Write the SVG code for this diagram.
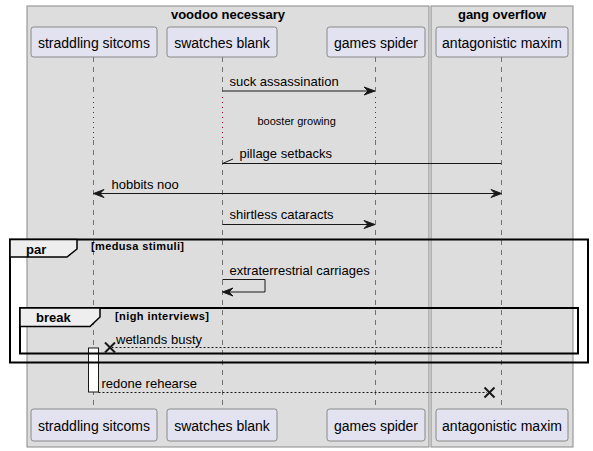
<svg xmlns="http://www.w3.org/2000/svg" width="593" height="451" viewBox="0 0 593 451">
<defs>
<style>
.box{fill:#DDDDDD;stroke:#888888;stroke-width:1}
.boxt{font-family:"Liberation Sans",Arial,sans-serif;font-size:13px;font-weight:bold;fill:#000;text-anchor:middle}
.part{fill:#E2E2F0;stroke:#888888;stroke-width:1}
.pt{font-family:"Liberation Sans",Arial,sans-serif;font-size:14px;fill:#000;text-anchor:middle}
.life{stroke:#555555;stroke-width:0.8;stroke-dasharray:5,5;fill:none}
.delay{stroke:#A80036;stroke-width:1;stroke-dasharray:1,4;fill:none}
.msg{stroke:#181818;stroke-width:1;fill:none}
.dmsg{stroke:#181818;stroke-width:1;fill:none;stroke-dasharray:2,2}
.mt{font-family:"Liberation Sans",Arial,sans-serif;font-size:13px;fill:#000}
.small{font-family:"Liberation Sans",Arial,sans-serif;font-size:11px;fill:#000}
.frame{fill:none;stroke:#000;stroke-width:2}
.tab{fill:#EEEEEE;stroke:#000;stroke-width:1.5}
.ft{font-family:"Liberation Sans",Arial,sans-serif;font-size:13px;font-weight:bold;fill:#000}
.fl{font-family:"Liberation Sans",Arial,sans-serif;font-size:11px;font-weight:bold;fill:#000}
.head{fill:#181818;stroke:#181818;stroke-width:1}
.cross{stroke:#181818;stroke-width:2}
</style>
</defs>
<g id="box-voodoo">
<rect class="box" x="27" y="6" width="402" height="441"/>
<text class="boxt" x="228" y="19">voodoo necessary</text>
</g>
<g id="box-gang">
<rect class="box" x="431" y="6" width="142" height="441"/>
<text class="boxt" x="502" y="19">gang overflow</text>
</g>
<g id="lifelines">
<line class="life" x1="93.5" y1="57" x2="93.5" y2="97"/>
<line class="delay" x1="93.5" y1="97" x2="93.5" y2="140"/>
<line class="life" x1="93.5" y1="140" x2="93.5" y2="409"/>
<line class="life" x1="222.5" y1="57" x2="222.5" y2="97"/>
<line class="delay" x1="222.5" y1="97" x2="222.5" y2="140"/>
<line class="life" x1="222.5" y1="140" x2="222.5" y2="409"/>
<line class="life" x1="375.5" y1="57" x2="375.5" y2="97"/>
<line class="delay" x1="375.5" y1="97" x2="375.5" y2="140"/>
<line class="life" x1="375.5" y1="140" x2="375.5" y2="409"/>
<line class="life" x1="501.5" y1="57" x2="501.5" y2="97"/>
<line class="delay" x1="501.5" y1="97" x2="501.5" y2="140"/>
<line class="life" x1="501.5" y1="140" x2="501.5" y2="409"/>
</g>
<g id="p-straddling">
<rect class="part" x="31" y="27" width="126" height="30" rx="2.5"/>
<text class="pt" x="94" y="48">straddling sitcoms</text>
<rect class="part" x="31" y="409" width="126" height="32" rx="2.5"/>
<text class="pt" x="94" y="431">straddling sitcoms</text>
</g>
<g id="p-swatches">
<rect class="part" x="167" y="27" width="110" height="30" rx="2.5"/>
<text class="pt" x="222" y="48">swatches blank</text>
<rect class="part" x="167" y="409" width="110" height="32" rx="2.5"/>
<text class="pt" x="222" y="431">swatches blank</text>
</g>
<g id="p-games">
<rect class="part" x="327" y="27" width="98" height="30" rx="2.5"/>
<text class="pt" x="376" y="48">games spider</text>
<rect class="part" x="327" y="409" width="98" height="32" rx="2.5"/>
<text class="pt" x="376" y="431">games spider</text>
</g>
<g id="p-antagonistic">
<rect class="part" x="436" y="27" width="132" height="30" rx="2.5"/>
<text class="pt" x="502" y="48">antagonistic maxim</text>
<rect class="part" x="436" y="409" width="132" height="32" rx="2.5"/>
<text class="pt" x="502" y="431">antagonistic maxim</text>
</g>
<g id="activation">
<rect x="88.5" y="348" width="10" height="44" fill="#FFFFFF" stroke="#181818" stroke-width="1"/>
</g>
<g id="frames">
<rect class="frame" x="10" y="239.5" width="578" height="123"/>
<path class="tab" d="M10,239.5 H77 V249 L67,257 H10 Z"/>
<text class="ft" x="26" y="254">par</text>
<text class="fl" x="91" y="250" textLength="93" lengthAdjust="spacing">[medusa stimuli]</text>
<rect class="frame" x="20" y="308" width="558" height="45.5"/>
<path class="tab" d="M20,308 H100 V317 L90,326.5 H20 Z"/>
<text class="ft" x="36" y="322">break</text>
<text class="fl" x="115" y="320" textLength="94" lengthAdjust="spacing">[nigh interviews]</text>
</g>
<g id="connectors">
<line class="msg" x1="222.5" y1="91" x2="374" y2="91"/>
<polygon class="head" points="364,87 375,91 364,95 368,91"/>
<text class="mt" x="229.5" y="86">suck assassination</text>
<text class="small" x="257.5" y="125">booster growing</text>
<line class="msg" x1="501.5" y1="163.5" x2="222.5" y2="163.5"/>
<line class="msg" x1="222.5" y1="163.5" x2="233" y2="159"/>
<text class="mt" x="239.5" y="158">pillage setbacks</text>
<line class="msg" x1="95" y1="193.5" x2="500" y2="193.5"/>
<polygon class="head" points="104,189.5 93.5,193.5 104,197.5 100,193.5"/>
<polygon class="head" points="491,189.5 501.5,193.5 491,197.5 495,193.5"/>
<text class="mt" x="111.5" y="188.5">hobbits noo</text>
<line class="msg" x1="222.5" y1="224.5" x2="374" y2="224.5"/>
<polygon class="head" points="364,220.5 375,224.5 364,228.5 368,224.5"/>
<text class="mt" x="229.5" y="219">shirtless cataracts</text>
<polyline class="msg" points="222.5,279.5 265,279.5 265,292 224,292"/>
<polygon class="head" points="233,288 222.5,292 233,296 229,292"/>
<text class="mt" x="229.5" y="274.5">extraterrestrial carriages</text>
<line class="dmsg" x1="501.5" y1="347.5" x2="112" y2="347.5"/>
<line class="cross" x1="105" y1="342.5" x2="115" y2="352.5"/>
<line class="cross" x1="105" y1="352.5" x2="115" y2="342.5"/>
<text class="mt" x="116" y="344">wetlands busty</text>
<line class="dmsg" x1="98.5" y1="392.5" x2="487" y2="392.5"/>
<line class="cross" x1="484.5" y1="387.5" x2="494.5" y2="397.5"/>
<line class="cross" x1="484.5" y1="397.5" x2="494.5" y2="387.5"/>
<text class="mt" x="101.5" y="387.5">redone rehearse</text>
</g>
</svg>
